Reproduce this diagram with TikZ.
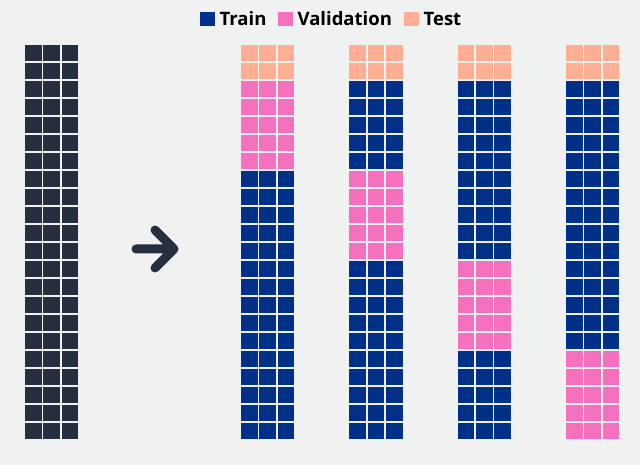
\documentclass[tikz,border=0pt]{standalone}
\usepackage{fontspec}
\setmainfont{Open Sans}
\usetikzlibrary{positioning}

\definecolor{bgc}{HTML}{F0F2F1}
\definecolor{darkc}{HTML}{252F3F}
\definecolor{trainc}{HTML}{003087}
\definecolor{valc}{HTML}{F570BD}
\definecolor{testc}{HTML}{FFAE93}

\begin{document}
\begin{tikzpicture}[x=1pt,y=-1pt,node distance=4pt,
  key/.style={fill=#1,minimum size=14.5pt,inner sep=0pt},
  keytext/.style={font=\bfseries\fontsize{18.5}{18.5}\selectfont,inner sep=0pt,anchor=west}]
\fill[bgc] (0,0) rectangle (640,465);
\useasboundingbox (0,0) rectangle (640,465);

% legend
\node[key=trainc] (ktrain) at (207.5,19) {};
\node[keytext,right=4.5pt of ktrain] (ltrain) {Train};
\node[key=valc] (kval) at (285.5,19) {};
\node[keytext,right=4.5pt of kval] (lval) {Validation};
\node[key=testc] (ktest) at (411.5,19) {};
\node[keytext,right=4.5pt of ktest] (ltest) {Test};

% full data set
\foreach \r in {0,...,21}
  \foreach \c in {0,1,2}
    \fill[darkc] (25+18.4*\c,45+18*\r) rectangle ++(16.6,16.2);

% arrow
\coordinate (tail) at (136,249);
\coordinate (tip) at (174,249);
\draw[darkc,line width=9pt,line cap=round,line join=round]
  (tail) -- (tip) (155,230) -- (tip) -- (155,268);

% folds
\foreach \k in {0,...,3}{
  \pgfmathsetmacro{\xo}{241+108.33*\k}
  \pgfmathtruncatemacro{\vs}{2+5*\k}
  \foreach \r in {0,...,21}{
    \ifnum\r<2 \def\cc{testc}\else
      \ifnum\r<\vs \def\cc{trainc}\else
        \ifnum\r<\numexpr\vs+5\relax \def\cc{valc}\else \def\cc{trainc}\fi\fi\fi
    \foreach \c in {0,1,2}
      \fill[\cc] (\xo+18.4*\c,45+18*\r) rectangle ++(16.6,16.2);
  }
}
\end{tikzpicture}
\end{document}
